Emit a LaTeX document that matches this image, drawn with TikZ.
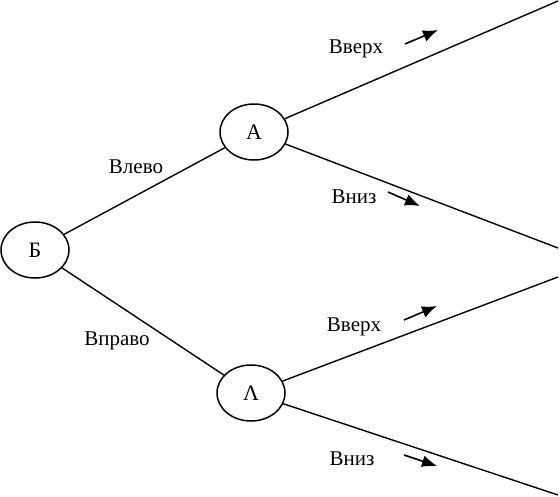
\documentclass[tikz,border=0pt]{standalone}
\usepackage{fontspec}
\setmainfont{Liberation Serif}
\usetikzlibrary{shapes.geometric,arrows.meta}

\begin{document}
\begin{tikzpicture}
[
	state/.style={ellipse,draw,line width=1.5pt,inner sep=0pt,minimum width=68pt,minimum height=56pt,font=\fontsize{22}{26}\selectfont},
	branch/.style={line width=1.4pt},
	lbl/.style={font=\fontsize{21}{25}\selectfont},
	hint/.style={line width=1.6pt,-{Latex[length=15pt,width=12pt]}},
	x=1pt,y=-1pt
]

	\useasboundingbox (0,0) rectangle (560,496);

	% nodes
	\node[state] (b) at (35,250) {Б};
	\node[state] (a) at (254,132) {А};
	\node[state] (l) at (251,393) {Λ};

	\coordinate (a1) at (558,1);
	\coordinate (a2) at (558,248);
	\coordinate (l1) at (558,277);
	\coordinate (l2) at (558,495);

	% branches
	\draw[branch] (b) -- (a);
	\draw[branch] (b) -- (l);
	\draw[branch] (a) -- (a1);
	\draw[branch] (a) -- (a2);
	\draw[branch] (l) -- (l1);
	\draw[branch] (l) -- (l2);

	% labels
	\node[lbl] (left) at (136,167) {Влево};
	\node[lbl] (right) at (117,341) {Вправо};
	\node[lbl] (up1) at (356,49) {Вверх};
	\node[lbl] (down1) at (354,197) {Вниз};
	\node[lbl] (up2) at (354,327) {Вверх};
	\node[lbl] (down2) at (352,459) {Вниз};

	\draw[hint] (405,44) -- (438,30);
	\draw[hint] (388,192) -- (420,206);
	\draw[hint] (404,320) -- (437,306);
	\draw[hint] (404,455) -- (437,466);

\end{tikzpicture}
\end{document}
